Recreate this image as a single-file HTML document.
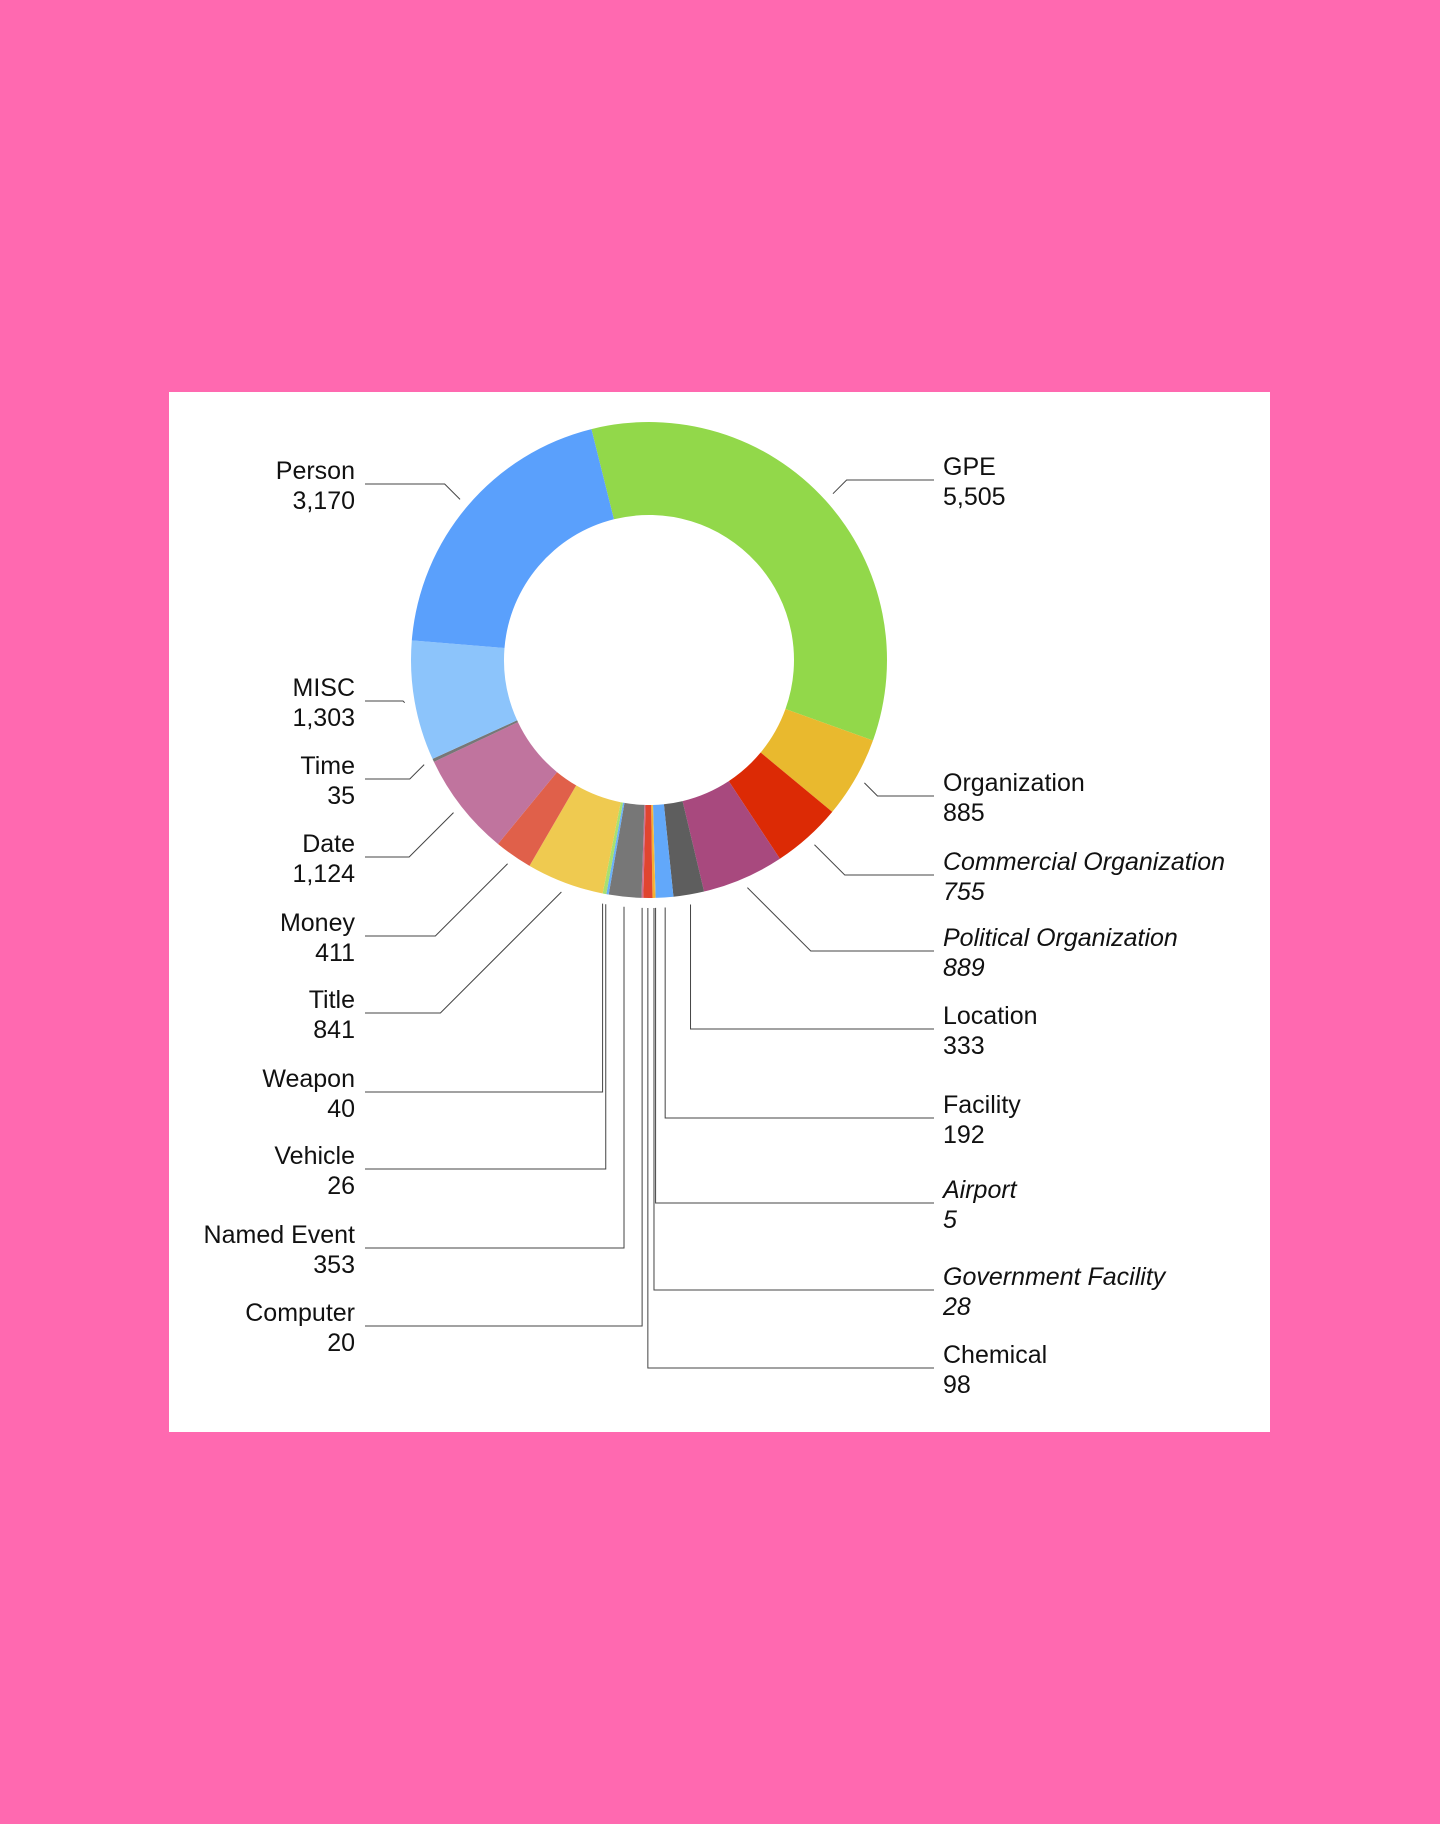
<!DOCTYPE html>
<html><head><meta charset="utf-8"><style>
html,body{margin:0;padding:0;background:#ff69b0;}
svg{display:block;font-family:"Liberation Sans",sans-serif;}
</style></head><body>
<svg id="chart" width="1440" height="1824" viewBox="0 0 1440 1824">
<rect x="169" y="392" width="1101" height="1040" fill="#fff"/>
<g id="slices"></g><g id="leaders"></g><g id="labels"></g>
</svg>
<script>
const categories=["GPE","Organization","Commercial Organization","Political Organization","Location","Facility","Airport","Government Facility","Chemical","Computer","Named Event","Vehicle","Weapon","Title","Money","Date","Time","MISC","Person"];
const values=[5505,885,755,889,333,192,5,28,98,20,353,26,40,841,411,1124,35,1303,3170];
const valueLabels=["5,505","885","755","889","333","192","5","28","98","20","353","26","40","841","411","1,124","35","1,303","3,170"];
const colors=["#92d84a","#e9b92e","#dc2a05","#a8497e","#5e5e5e","#62a8fa","#f0c040","#f5b030","#e04530","#d07090","#777777","#6ab0f8","#a8e070","#efca50","#e0604a","#c0749e","#777777","#8cc4fb","#5aa0fc"];
const italic=[0,0,1,1,0,0,1,1,0,0,0,0,0,0,0,0,0,0,0];
const labelSide=["R","R","R","R","R","R","R","R","R","L","L","L","L","L","L","L","L","L","L"];
const labelY=[466,782,861,937,1015,1104,1189,1276,1354,1312,1234,1155,1078,999,922,843,765,687,470];
const NS="http://www.w3.org/2000/svg";
const cx=649,cy=660,R=238,r=145,start=-14;
const total=values.reduce((a,b)=>a+b,0);
function pt(a,rad){const t=a*Math.PI/180;return [cx+rad*Math.sin(t),cy-rad*Math.cos(t)];}
const gS=document.getElementById('slices'),gL=document.getElementById('leaders'),gT=document.getElementById('labels');
let a=start;
values.forEach((v,i)=>{
 const sw=v/total*360,a1=a+sw,mid=a+sw/2;
 const p1=pt(a,R),p2=pt(a1,R),p3=pt(a1,r),p4=pt(a,r),lg=sw>180?1:0;
 const p=document.createElementNS(NS,'path');
 p.setAttribute('d',`M${p1}A${R},${R} 0 ${lg} 1 ${p2}L${p3}A${r},${r} 0 ${lg} 0 ${p4}Z`);
 p.setAttribute('fill',colors[i]);
 
 
 gS.appendChild(p);
 const an=pt(mid,R+10),ly=labelY[i]+14,left=labelSide[i]==="L";
 let ex;
 if(Math.abs(an[0]-cx)<70) ex=an[0]; else ex=an[0]+(left?-1:1)*Math.abs(ly-an[1]);
 const endX=left?365:934;
 const pl=document.createElementNS(NS,'polyline');
 pl.setAttribute('points',`${an[0]},${an[1]} ${ex},${ly} ${endX},${ly}`);
 pl.setAttribute('fill','none');pl.setAttribute('stroke','#444');pl.setAttribute('stroke-width','1');
 
 
 gL.appendChild(pl);
 [[categories[i],labelY[i]],[valueLabels[i],labelY[i]+30]].forEach(([txt,y],k)=>{
  const t=document.createElementNS(NS,'text');
  t.textContent=txt;
  t.setAttribute('x',left?355:943);t.setAttribute('y',y+9);
  t.setAttribute('text-anchor',left?'end':'start');
  t.setAttribute('font-size','25');t.setAttribute('fill','#111');
  if(italic[i])t.setAttribute('font-style','italic');
  
  
  gT.appendChild(t);
 });
 a=a1;
});
</script>
</body></html>
